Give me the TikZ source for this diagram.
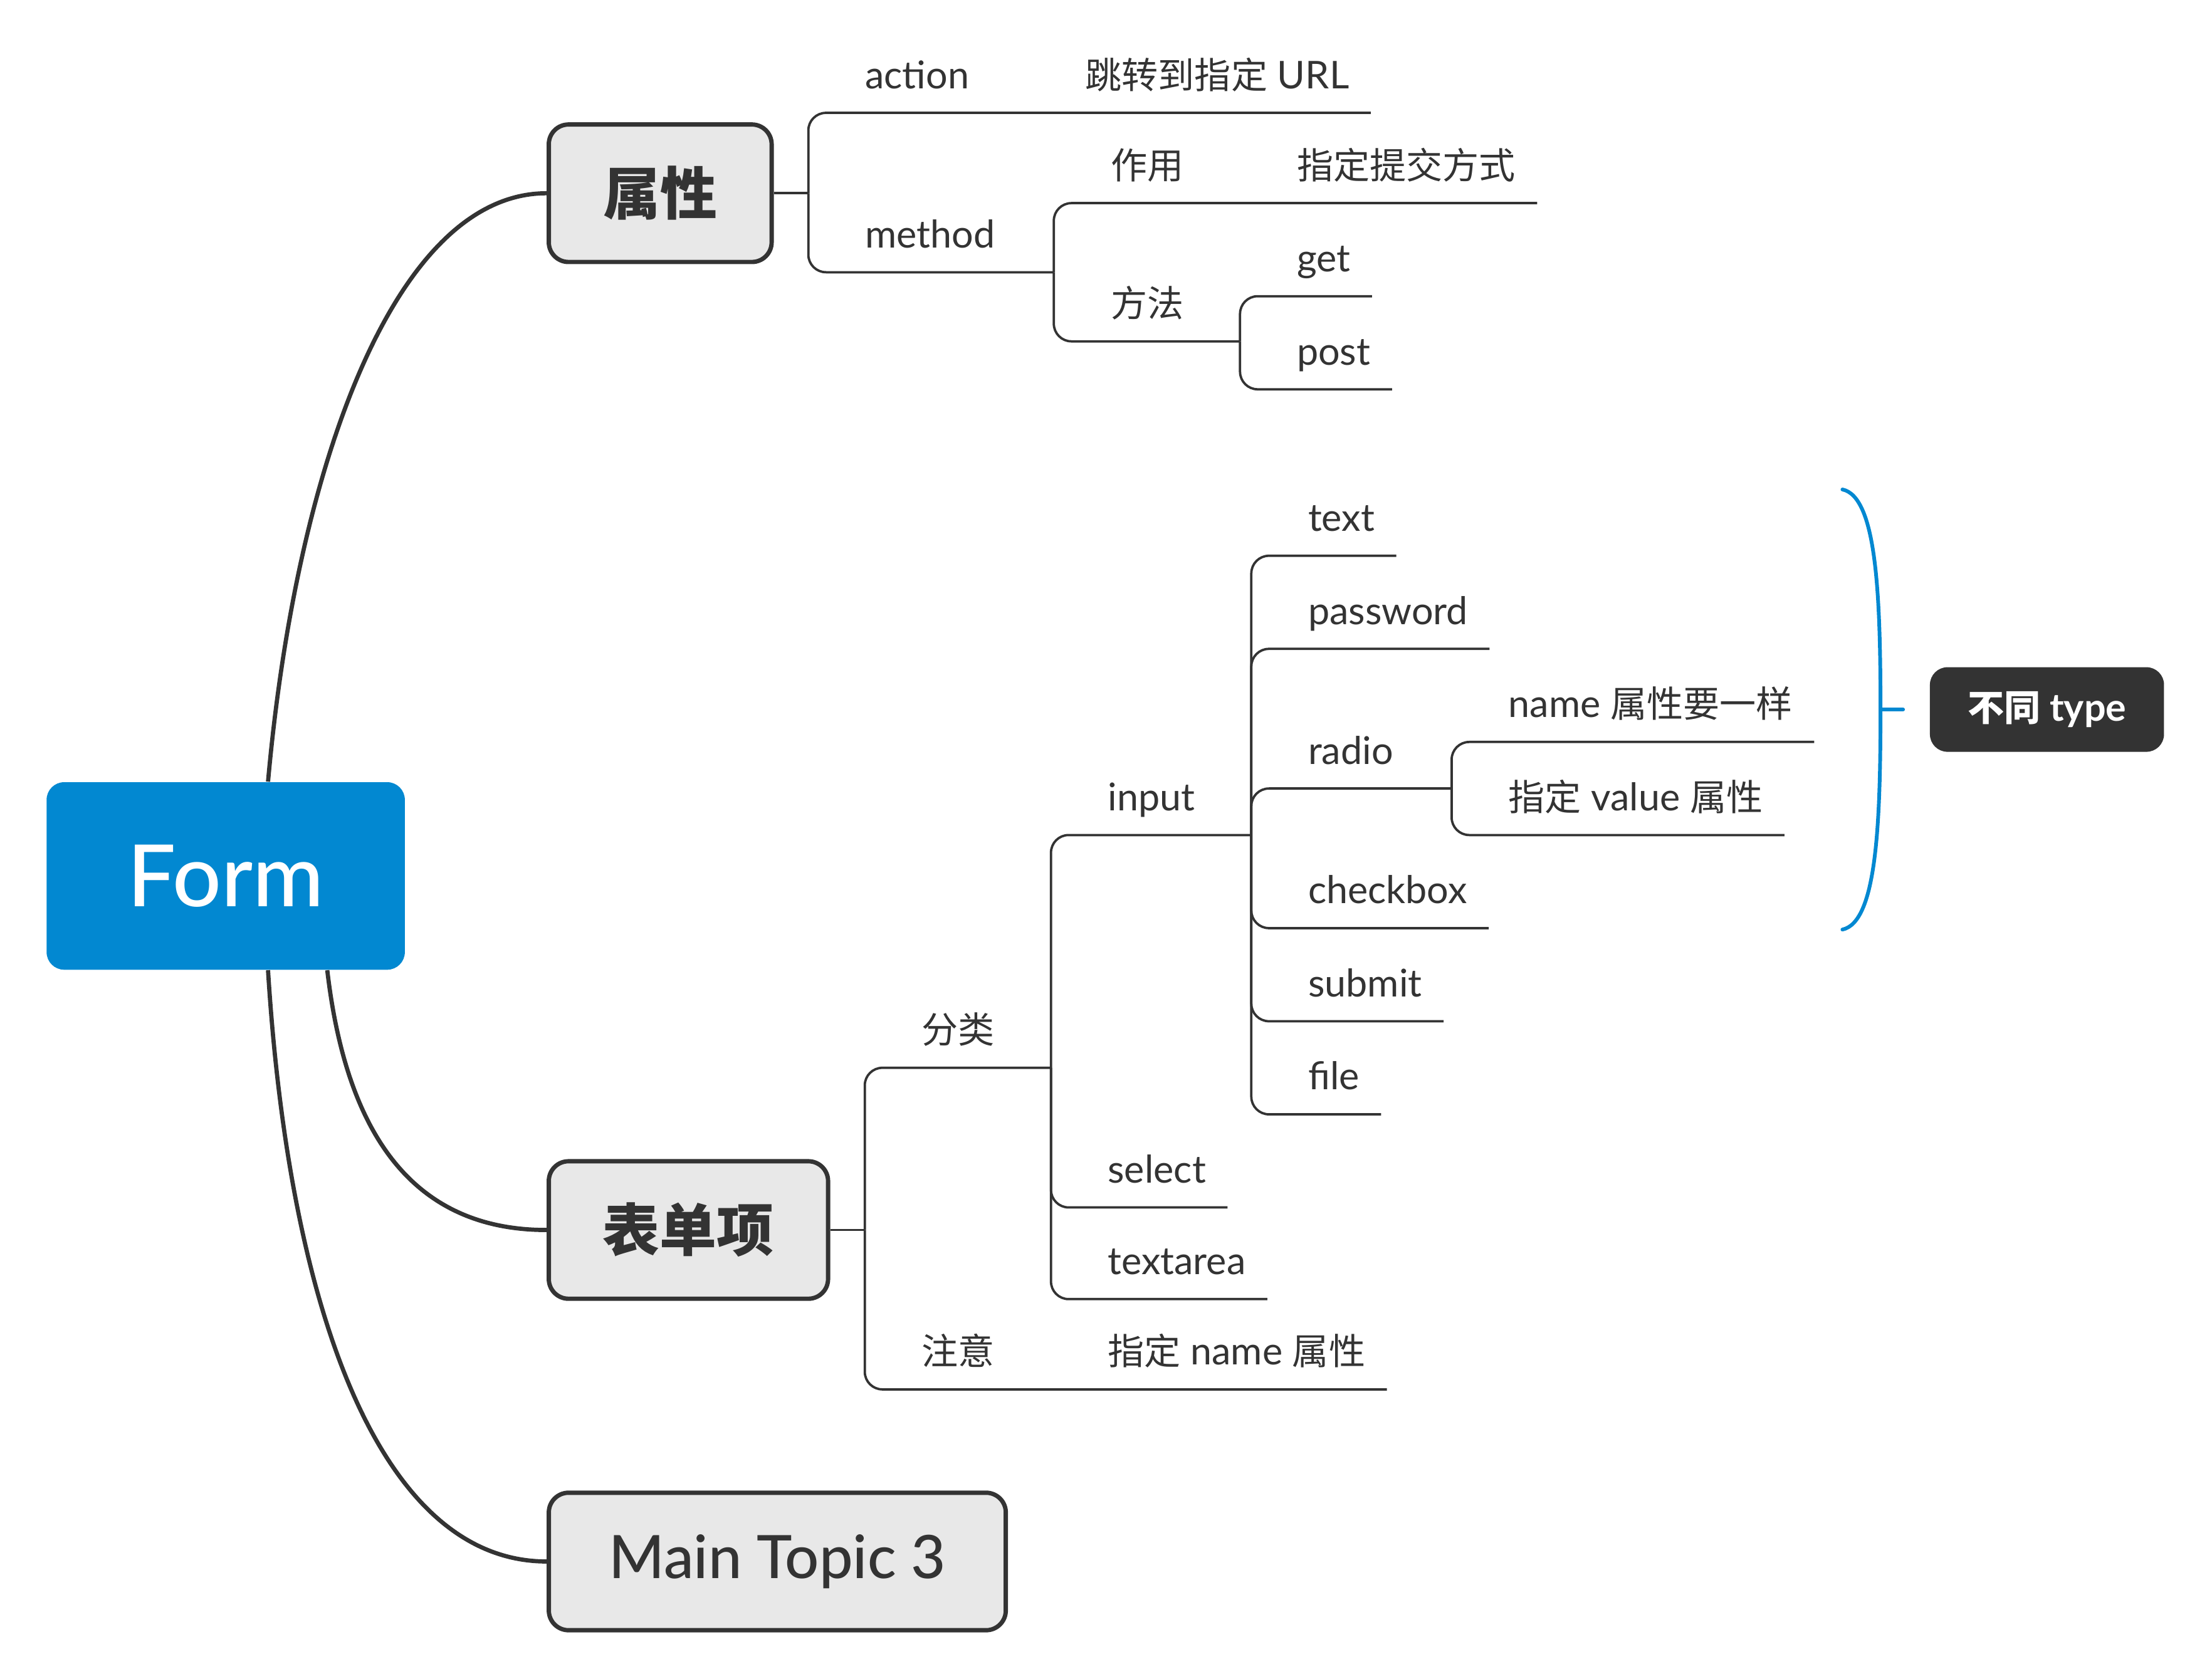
\documentclass[tikz,border=0pt]{standalone}
\usepackage{fontspec}
\setmainfont{Lato}[Scale=1.05]
\newfontfamily\medfont{Lato Medium}[Scale=1.05]
\newfontfamily\cjk{Noto Sans CJK SC}
\usetikzlibrary{positioning,calc}
\definecolor{formBlue}{HTML}{0288D1}
\definecolor{topicGrey}{HTML}{E8E8E8}
\definecolor{lineDark}{HTML}{333333}
\newcommand{\zh}[1]{{\cjk #1}}
\tikzset{rootBox/.style={rectangle,rounded corners=0.25cm,fill=formBlue,text=white,
			minimum width=5.08cm,minimum height=2.66cm,font=\fontsize{33}{40}\medfont},
		topicBox/.style={rectangle,rounded corners=0.28cm,draw=lineDark,line width=1.75pt,
			fill=topicGrey,text=lineDark,minimum height=1.95cm,font=\fontsize{23}{28}\selectfont},
		sub/.style={anchor=south west,inner xsep=0.3cm,inner ysep=0pt,text depth=0.34cm,
			text=lineDark,font=\fontsize{14.7}{17}\selectfont},
		sumBox/.style={rectangle,rounded corners=0.25cm,fill=lineDark,text=white,
			minimum width=3.32cm,minimum height=1.2cm,font=\fontsize{14.7}{17}\selectfont\bfseries},
		mainEdge/.style={draw=lineDark,line width=1.7pt},
		subEdge/.style={draw=lineDark,line width=0.95pt,rounded corners=0.25cm},
		braceLine/.style={draw=formBlue,line width=1.5pt,line cap=round}}

\begin{document}
\begin{tikzpicture}[x=0.02cm,y=-0.02cm]
	\useasboundingbox (0,0) rectangle (1568,1190);
	\node [rootBox] (form) at (160,621) {Form};
	\node [topicBox, minimum width=3.16cm] (attr) at (468,137) {\zh{\bfseries 属性}};
	\node [topicBox, minimum width=3.96cm] (item) at (488,872) {\zh{\bfseries 表单项}};
	\node [topicBox, minimum width=6.48cm] (mt3) at (551,1107) {\medfont Main Topic 3};
	%main edges
	\draw[mainEdge] ([xshift=0.6cm]form.north) .. controls (210,330) and (280,137) .. (attr.west);
	\draw[mainEdge] ([xshift=1.44cm]form.south) .. controls (245,800) and (290,872) .. (item.west);
	\draw[mainEdge] ([xshift=0.6cm]form.south) .. controls (205,930) and (270,1107) .. (mt3.west);

	%attributes
	\coordinate (ja) at (573,137);
	\coordinate (jm) at (747,193);
	\coordinate (jff) at (879,242);
	\node [sub] (action) at (598,80) {action};
	\node [sub] (url) at (754,80) {\zh{跳转到指定} URL};
	\node [sub] (method) at (598,193) {method};
	\node [sub] (zuoyong) at (772,144) {\zh{作用}};
	\node [sub] (tijiao) at (904,144) {\zh{指定提交方式}};
	\node [sub] (fangfa) at (772,242) {\zh{方法}};
	\node [sub] (get) at (904,210) {get};
	\node [sub] (post) at (904,276) {post};
	\draw[subEdge] (attr.east) -- (ja);
	\draw[subEdge] (ja) |- (action.south west) -- (url.south east);
	\draw[subEdge] (ja) |- (method.south west) -- (jm);
	\draw[subEdge] (jm) |- (zuoyong.south west) -- (tijiao.south east);
	\draw[subEdge] (jm) |- (fangfa.south west) -- (jff);
	\draw[subEdge] (jff) |- (get.south west) -- (get.south east);
	\draw[subEdge] (jff) |- (post.south west) -- (post.south east);

	%form items
	\coordinate (ji) at (613,872);
	\coordinate (jf) at (745,757);
	\coordinate (jin) at (887,592);
	\coordinate (jr) at (1029,559);
	\node [sub] (fenlei) at (638,757) {\zh{分类}};
	\node [sub] (input) at (770,592) {input};
	\node [sub] (inText) at (912,394) {text};
	\node [sub] (inPass) at (912,460) {password};
	\node [sub] (inRadio) at (912,559) {radio};
	\node [sub] (radName) at (1054,526) {name \zh{属性要一样}};
	\node [sub] (radValue) at (1054,592) {\zh{指定} value \zh{属性}};
	\node [sub] (inCheck) at (912,658) {checkbox};
	\node [sub] (inSubmit) at (912,724) {submit};
	\node [sub] (inFile) at (912,790) {file};
	\node [sub] (select) at (770,856) {select};
	\node [sub] (textarea) at (770,921) {textarea};
	\node [sub] (zhuyi) at (638,985) {\zh{注意}};
	\node [sub] (nameAttr) at (770,985) {\zh{指定} name \zh{属性}};
	\draw[subEdge] (item.east) -- (ji);
	\draw[subEdge] (ji) |- (fenlei.south west) -- (jf);
	\draw[subEdge] (ji) |- (zhuyi.south west) -- (nameAttr.south east);
	\draw[subEdge] (jf) |- (input.south west) -- (jin);
	\draw[subEdge] (jf) |- (select.south west) -- (select.south east);
	\draw[subEdge] (jf) |- (textarea.south west) -- (textarea.south east);
	\draw[subEdge] (jin) |- (inText.south west) -- (inText.south east);
	\draw[subEdge] (jin) |- (inPass.south west) -- (inPass.south east);
	\draw[subEdge] (jin) |- (inRadio.south west) -- (jr);
	\draw[subEdge] (jin) |- (inCheck.south west) -- (inCheck.south east);
	\draw[subEdge] (jin) |- (inSubmit.south west) -- (inSubmit.south east);
	\draw[subEdge] (jin) |- (inFile.south west) -- (inFile.south east);
	\draw[subEdge] (jr) |- (radName.south west) -- (radName.south east);
	\draw[subEdge] (jr) |- (radValue.south west) -- (radValue.south east);

	%summary
	\coordinate (bTop) at (1306,347);
	\coordinate (bMid) at (1333,503);
	\coordinate (bBot) at (1306,659);
	\coordinate (bTip) at (1349,503);
	\draw[braceLine] (bTop) .. controls (1330,352) and (1333,420) .. (bMid)
		.. controls (1333,586) and (1330,654) .. (bBot);
	\draw[braceLine] (bMid) -- (bTip);
	\node [sumBox] (types) at (1451,503) {\zh{不同} type};
\end{tikzpicture}
\end{document}
